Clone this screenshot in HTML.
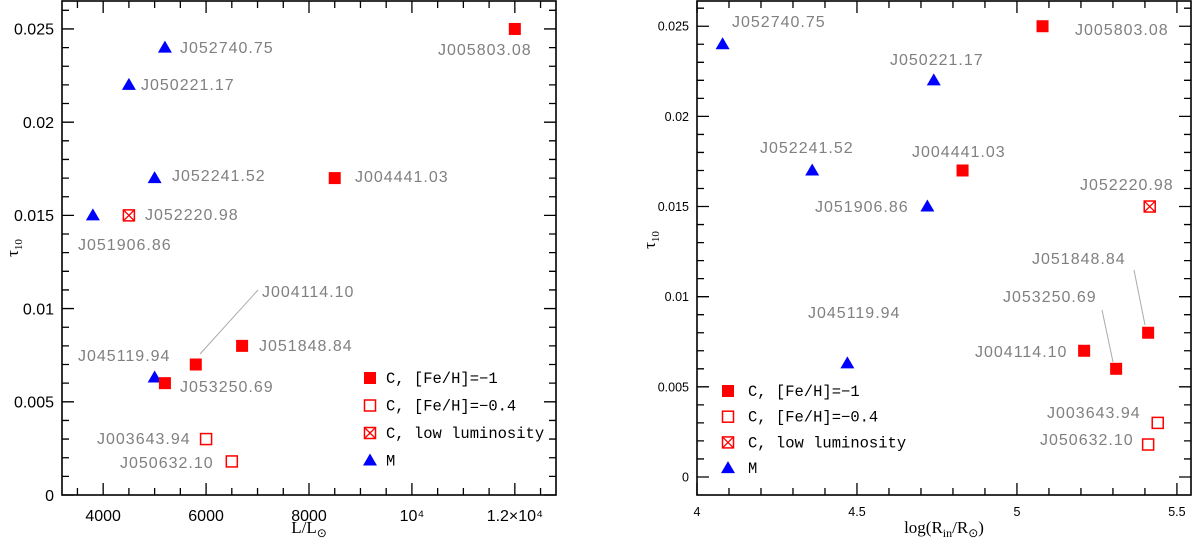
<!DOCTYPE html>
<html><head><meta charset="utf-8"><style>
html,body{margin:0;padding:0;background:#fff}
svg{display:block}
.lab{font-family:"Liberation Sans",sans-serif;font-size:16px;fill:#808080;letter-spacing:1px}
.tk{font-family:"Liberation Sans",sans-serif;fill:#000}
.lg{font-family:"Liberation Mono",monospace;font-size:15.5px;fill:#000}
.ttl{font-family:"Liberation Serif",serif;font-size:17px;fill:#000}
</style></head><body>
<svg id="c" width="1200" height="544" viewBox="0 0 1200 544"></svg>
<script>
const names=["J005803.08","J052740.75","J050221.17","J052241.52","J004441.03","J051906.86","J052220.98","J004114.10","J051848.84","J045119.94","J053250.69","J003643.94","J050632.10"];
const types=["cf","m","m","m","cf","m","cx","cf","cf","m","cf","co","co"];
const lumValues=[12000,5200,4500,5000,8500,3800,4500,5800,6700,5000,5200,6000,6500];
const tauLeft=[0.025,0.024,0.022,0.017,0.017,0.015,0.015,0.007,0.008,0.0063,0.006,0.003,0.0018];
const logRValues=[5.08,4.08,4.74,4.36,4.83,4.72,5.415,5.21,5.41,4.47,5.31,5.44,5.41];
const tauRight=[0.025,0.024,0.022,0.017,0.017,0.015,0.015,0.007,0.008,0.0063,0.006,0.003,0.0018];
const leftXTicks=[4000,6000,8000,10000,12000];
const leftXTickLabels=["4000","6000","8000","10\u2074","1.2\u00d710\u2074"];
const yTicks=[0,0.005,0.01,0.015,0.02,0.025];
const yTickLabels=["0","0.005","0.01","0.015","0.02","0.025"];
const rightXTicks=[4,4.5,5,5.5];
const rightXTickLabels=["4","4.5","5","5.5"];
const legendLabels=["C, [Fe/H]=\u22121","C, [Fe/H]=\u22120.4","C, low luminosity","M"];
const legendTypes=["cf","co","cx","m"];
// label layout (pixel positions, not data)
const leftLabelPos=[[438,55],[180,53],[141,90],[172,181],[355,182],[78,250],[145,220],[262,297],[259,351],[78,361],[180,392],[97,444],[120,468]];
const rightLabelPos=[[1075,35],[732,27],[890,65],[760,153],[912,157],[815,212],[1080,190],[975,357],[1032,264],[808,318],[1003,302],[1047,418],[1040,445]];

const svg=document.getElementById('c');const NS="http://www.w3.org/2000/svg";
function mk(tag,attrs,parent,text){const e=document.createElementNS(NS,tag);for(const k in attrs)e.setAttribute(k,attrs[k]);if(text!==undefined)e.textContent=text;(parent||svg).appendChild(e);return e;}
function marker(g,t,x,y,nm){
  let e;
  if(t==='m'){e=mk('polygon',{points:`${x-7},${y+5} ${x+7},${y+5} ${x},${y-7}`,fill:'#0000ff'},g);}
  else if(t==='cf'){e=mk('rect',{x:x-6,y:y-6,width:12,height:12,fill:'#ff0000'},g);}
  else if(t==='co'){e=mk('rect',{x:x-5.5,y:y-5.5,width:11,height:11,fill:'none',stroke:'#ff0000','stroke-width':1.5},g);}
  else {e=mk('g',{},g);mk('rect',{x:x-5.5,y:y-5.5,width:11,height:11,fill:'none',stroke:'#ff0000','stroke-width':1.5},e);
    mk('path',{d:`M${x-5.5},${y-5.5}L${x+5.5},${y+5.5}M${x+5.5},${y-5.5}L${x-5.5},${y+5.5}`,stroke:'#ff0000','stroke-width':1.3},e);}
  
  
}
function panel(o){
  const g=mk('g',{});
  
  
  const X=v=>o.x0+(v-o.xmin)/(o.xmax-o.xmin)*(o.x1-o.x0);
  const Y=v=>o.y1-(v-o.ymin)/(o.ymax-o.ymin)*(o.y1-o.y0);
  const fr=mk('rect',{x:o.x0,y:o.y0,width:o.x1-o.x0,height:o.y1-o.y0,fill:'none',stroke:'#000','stroke-width':1.6},g);
  
  
  let d='';
  for(let v=Math.ceil(o.xmin/o.xminor)*o.xminor;v<=o.xmax+1e-9;v+=o.xminor){const maj=Math.abs(v/o.xmajor-Math.round(v/o.xmajor))<1e-6;const L=maj?12:7;const x=X(v);d+=`M${x},${o.y1}v${-L}M${x},${o.y0}v${L}`;}
  for(let v=0;v<=o.ymax+1e-9;v+=0.001){const maj=Math.abs(v/0.005-Math.round(v/0.005))<1e-6;const L=maj?12:7;const y=Y(v);d+=`M${o.x0},${y}h${L}M${o.x1},${y}h${-L}`;}
  const tp=mk('path',{d:d,stroke:'#000','stroke-width':1.3,fill:'none'},g);
  
  
  o.xt.forEach((v,i)=>{const t=mk('text',{x:X(v),y:o.y1+o.xlabOff,'text-anchor':'middle',class:'tk','font-size':o.fs},g,o.xtl[i]);
    
    });
  yTicks.forEach((v,i)=>{const t=mk('text',{x:o.x0-o.ylabOff,y:Y(v)+o.fs*0.36,'text-anchor':'end',class:'tk','font-size':o.fs},g,yTickLabels[i]);
    
    });
  o.xs.forEach((xv,i)=>{marker(g,types[i],X(xv),Y(o.ys[i]),'point-'+names[i].toLowerCase());
    const p=o.lp[i];const t=mk('text',{x:p[0],y:p[1],class:'lab'},g,names[i]);
    
    });
  o.lines.forEach(l=>{const ln=mk('line',{x1:l[0],y1:l[1],x2:l[2],y2:l[3],stroke:'#aaa','stroke-width':1},g);
    
    });
  legendLabels.forEach((s,i)=>{const yy=o.lgY+i*o.lgDy;marker(g,legendTypes[i],o.lgX,yy,'legend-marker');
    const t=mk('text',{x:o.lgX+o.lgT,y:yy+5,class:'lg'},g,s);
    
    });
  return {X,Y};
}
panel({name:'left-panel',x0:62,x1:556,y0:1,y1:495,xmin:3200,xmax:12800,ymin:0,ymax:0.0265,xminor:500,xmajor:2000,
  xt:leftXTicks,xtl:leftXTickLabels,xs:lumValues,ys:tauLeft,lp:leftLabelPos,fs:16,xlabOff:26,ylabOff:8,
  lines:[[258,290,200,354]],lgX:370,lgY:378,lgDy:27.5,lgT:16});
panel({name:'right-panel',x0:697,x1:1191,y0:1,y1:495,xmin:4,xmax:5.544,ymin:-0.001,ymax:0.0264,xminor:0.1,xmajor:0.5,
  xt:rightXTicks,xtl:rightXTickLabels,xs:logRValues,ys:tauRight,lp:rightLabelPos,fs:12.5,xlabOff:21,ylabOff:8,
  lines:[[1134,270,1145,325],[1102,310,1113,362]],lgX:728,lgY:391,lgDy:25.7,lgT:20});
let t;
t=mk('text',{x:309,y:533,'text-anchor':'middle',class:'ttl'},svg);


t.innerHTML='L/L<tspan font-size="12" dy="4">\u2299</tspan>';
t=mk('text',{x:944,y:533,'text-anchor':'middle',class:'ttl'},svg);


t.innerHTML='log(R<tspan font-size="12" dy="4">in</tspan><tspan dy="-4">/R</tspan><tspan font-size="12" dy="4">\u2299</tspan><tspan dy="-4">)</tspan>';
t=mk('text',{x:18,y:248,'text-anchor':'middle',class:'ttl',transform:'rotate(-90 18 248)'},svg);


t.innerHTML='\u03c4<tspan font-size="11" dy="4">10</tspan>';
t=mk('text',{x:655,y:240,'text-anchor':'middle',class:'ttl',transform:'rotate(-90 655 240)'},svg);


t.innerHTML='\u03c4<tspan font-size="11" dy="4">10</tspan>';
</script>
</body></html>
